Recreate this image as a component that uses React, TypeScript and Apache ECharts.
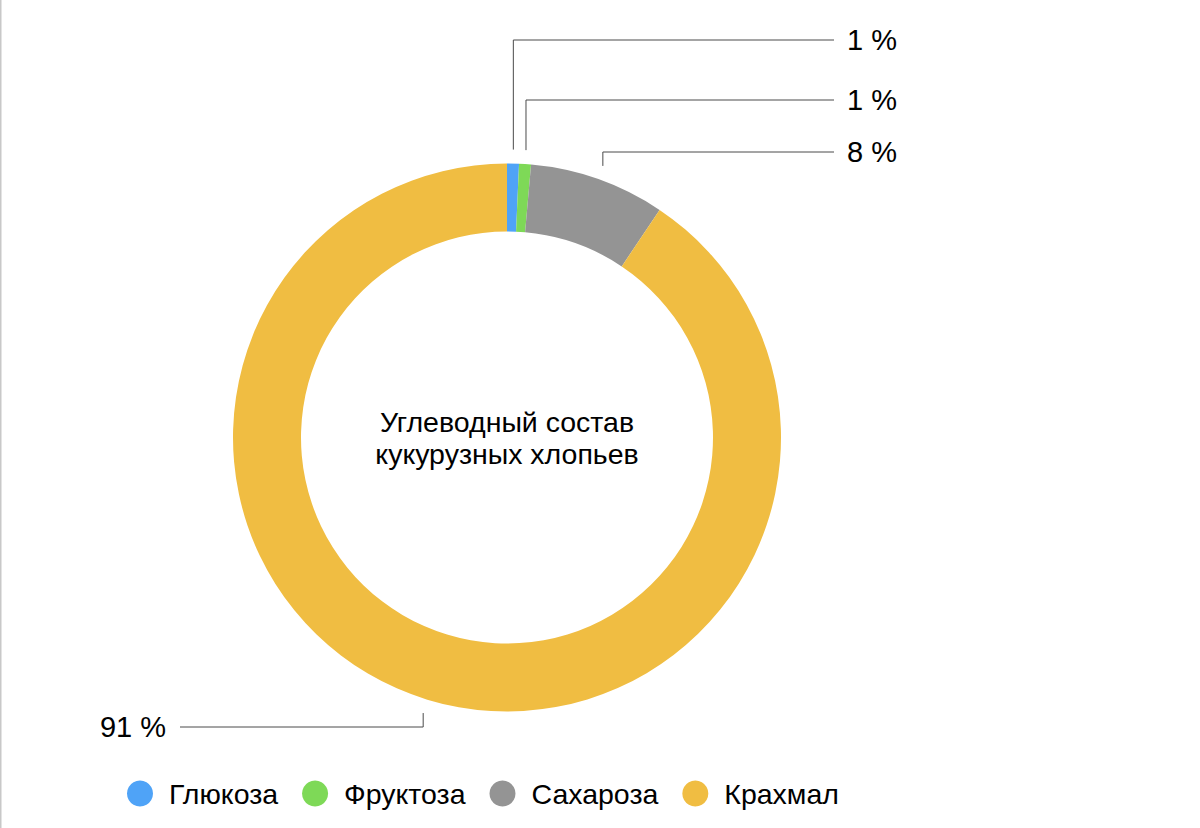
import React, { useEffect, useRef } from "react";
import * as echarts from "echarts";

const categories = ["Глюкоза", "Фруктоза", "Сахароза", "Крахмал"];
const values = [0.7, 0.7, 8.0, 90.6];
const colors = ["#4FA3F7", "#7ED957", "#949494", "#F0BD42"];
const titleText = "Углеводный состав\nкукурузных хлопьев";

const FONT = "'Liberation Sans', Arial, Helvetica, sans-serif";
const CX = 507;
const CY = 437.5;
const R_IN = 206;
const R_OUT = 274;
const R_LINE = 288;
// label row layout: [y, side]
const labelRows: { y: number; right: boolean }[] = [
  { y: 40, right: true },
  { y: 100, right: true },
  { y: 152, right: true },
  { y: 727, right: false },
];
const RIGHT_LINE_END = 834;
const LEFT_LINE_END = 180;

export default function App() {
  const ref = useRef<HTMLDivElement>(null);
  useEffect(() => {
    if (!ref.current) return;
    const chart = echarts.init(ref.current, undefined, { renderer: "svg" });
    const total = values.reduce((a, b) => a + b, 0);
    const mids: number[] = [];
    let cum = 0;
    values.forEach((v) => {
      mids.push(((cum + v / 2) / total) * Math.PI * 2);
      cum += v;
    });
    chart.setOption({
      animation: false,
      backgroundColor: "#fff",
      color: colors,
      graphic: [
        {
          type: "line",
          shape: { x1: 0.75, y1: 0, x2: 0.75, y2: 828 },
          style: { stroke: "#c8c8c8", lineWidth: 1.5 },
        },
        {
          type: "text",
          x: CX,
          y: CY,
          style: {
            text: titleText,
            align: "center",
            verticalAlign: "middle",
            fontFamily: FONT,
            fontSize: 28.5,
            lineHeight: 32,
            fill: "#000",
          },
        },
      ],
      legend: {
        left: 127,
        top: 779,
        padding: 0,
        orient: "horizontal",
        icon: "circle",
        itemWidth: 26,
        itemHeight: 26,
        itemGap: 24,
        textStyle: {
          fontFamily: FONT,
          fontSize: 28.5,
          color: "#000",
          padding: [0, 0, 0, 11],
        },
        data: categories,
      },
      series: [
        {
          type: "pie",
          center: [CX, CY],
          radius: [R_IN, R_OUT],
          startAngle: 90,
          clockwise: true,
          avoidLabelOverlap: false,
          label: {
            show: true,
            position: "outside",
            formatter: (p: any) => Math.round(p.percent) + " %",
            fontFamily: FONT,
            fontSize: 29,
            color: "#000",
          },
          labelLine: {
            show: true,
            length: 14,
            length2: 20,
            lineStyle: { color: "#4a4a4a", width: 1 },
          },
          labelLayout: (params: any) => {
            const i = params.dataIndex;
            const a = mids[i];
            const x1 = CX + R_LINE * Math.sin(a);
            const y1 = CY - R_LINE * Math.cos(a);
            const row = labelRows[i];
            const endX = row.right ? RIGHT_LINE_END : LEFT_LINE_END;
            return {
              x: row.right ? endX + 13 : endX - 14,
              y: row.y,
              align: row.right ? "left" : "right",
              verticalAlign: "middle",
              labelLinePoints: [
                [x1, y1],
                [x1, row.y],
                [endX, row.y],
              ],
            };
          },
          emphasis: { disabled: true },
          data: categories.map((name, i) => ({
            name,
            value: values[i],
            itemStyle: { color: colors[i] },
          })),
        },
      ],
    });
    return () => chart.dispose();
  }, []);
  return (
    <div
      ref={ref}
      style={{ position: "absolute", left: 0, top: 0, width: 1200, height: 828 }}
    />
  );
}
